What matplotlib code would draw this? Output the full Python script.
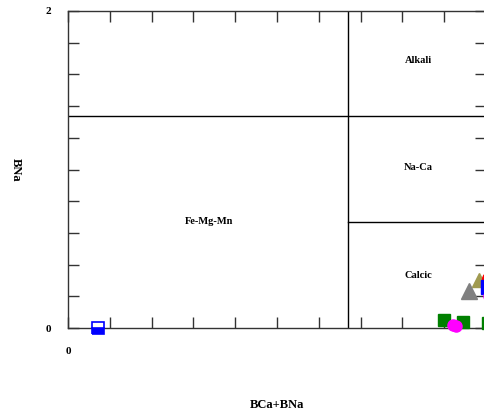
import numpy as np
import matplotlib
matplotlib.use("Agg")
import matplotlib.pyplot as plt

plt.rcParams['font.family'] = ['Liberation Serif', 'DejaVu Serif']
plt.rcParams['font.weight'] = 'bold'

# classification boundaries (Leake 1997)
ca_na_limit = 1.34
na_upper = 1.34
na_lower = 0.67

region_names = ['Alkali', 'Na-Ca', 'Calcic', 'Fe-Mg-Mn']
region_x = [1.677, 1.677, 1.677, 0.675]
region_y = [1.69, 1.01, 0.334, 0.669]

# samples: BCa+BNa, BNa
blue_x = [0.144]
blue_y = [0.0]
green_x = [1.80, 1.89, 2.01]
green_y = [0.05, 0.038, 0.03]
magenta_x = [1.84, 1.855, 2.015]
magenta_y = [0.02, 0.015, 0.2]
grey_x = [1.92]
grey_y = [0.235]
olive_x = [1.965]
olive_y = [0.30]
red_x = [2.015]
red_y = [0.31]
navy_x = [2.01]
navy_y = [0.26]

fig = plt.figure(figsize=(4.85, 4.18), dpi=100)
ax = fig.add_axes([68/485, 90/418, 418/485, 317/418])

ax.plot([ca_na_limit, ca_na_limit], [0, 2], color='black', lw=1)
ax.plot([0, 2], [na_upper, na_upper], color='black', lw=1)
ax.plot([ca_na_limit, 2], [na_lower, na_lower], color='black', lw=1)

for name, tx, ty in zip(region_names, region_x, region_y):
    ax.text(tx, ty, name, ha='center', va='center', fontsize=7.5, fontweight='bold')

ax.plot(blue_x, blue_y, 's', ms=8, mec='blue', mfc='blue', fillstyle='bottom',
        markerfacecoloralt='white', mew=1.2, clip_on=False, zorder=5)
ax.plot(olive_x, olive_y, '^', ms=10, color='#a09a50', clip_on=False, zorder=4)
ax.plot(grey_x, grey_y, '^', ms=11, color='grey', clip_on=False, zorder=5)
ax.plot(red_x, red_y, 'o', ms=10, color='red', clip_on=False, zorder=5)
ax.plot(navy_x, navy_y, 's', ms=10, color='blue', clip_on=False, zorder=6)
ax.plot(green_x, green_y, 's', ms=9, color='green', clip_on=False, zorder=5)
ax.plot(magenta_x, magenta_y, 'o', ms=8, color='magenta', clip_on=False, zorder=7)

ax.set_xlim(0, 2)
ax.set_ylim(0, 2)
ticks = np.arange(0, 2.01, 0.2)
labels = ['0'] + [''] * 9 + ['2']
ax.set_xticks(ticks)
ax.set_xticklabels(labels)
ax.set_yticks(ticks)
ax.set_yticklabels(labels)
ax.tick_params(direction='in', length=8, width=1, color='#333333',
               top=True, right=True, labelsize=8)
ax.tick_params(axis='x', pad=14)
ax.tick_params(axis='y', pad=12)
for lab in ax.get_xticklabels() + ax.get_yticklabels():
    lab.set_fontweight('bold')
for sp in ax.spines.values():
    sp.set_color('#333333')
    sp.set_linewidth(1)

fig.text(277/485, 1 - 405/418, 'BCa+BNa', ha='center', va='center', fontsize=9, fontweight='bold')
fig.text(16/485, 1 - 170/418, 'BNa', ha='center', va='center', rotation=-90, fontsize=9, fontweight='bold')

fig.savefig('out.png', dpi=100)
